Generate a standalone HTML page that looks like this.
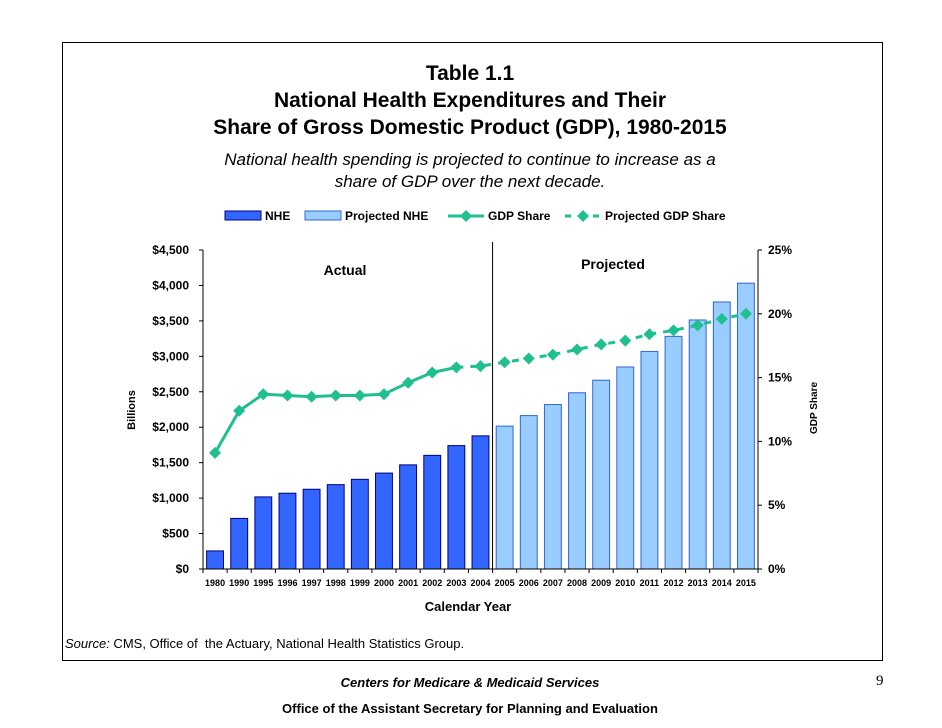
<!DOCTYPE html>
<html><head><meta charset="utf-8"><style>
body{margin:0;width:942px;height:728px;background:#fff;font-family:"Liberation Sans",sans-serif;position:relative;overflow:hidden}
.t{position:absolute;text-align:center;font-weight:bold}
</style></head><body>
<div style="position:absolute;left:62px;top:42px;width:819px;height:617px;border:1px solid #000"></div>
<div class="t" style="left:100px;width:740px;top:60px;font-size:21px;line-height:27px">Table 1.1<br>National Health Expenditures and Their<br>Share of Gross Domestic Product (GDP), 1980-2015</div>
<div style="position:absolute;left:100px;width:740px;top:149px;text-align:center;font-size:17px;font-style:italic;line-height:22px">National health spending is projected to continue to increase as a<br>share of GDP over the next decade.</div>
<div style="position:absolute;left:65px;top:636px;font-size:13px"><i>Source:</i> CMS, Office of &nbsp;the Actuary, National Health Statistics Group.</div>
<div class="t" style="left:200px;width:540px;top:675px;font-size:13px;font-style:italic">Centers for Medicare &amp; Medicaid Services</div>
<div class="t" style="left:200px;width:540px;top:701px;font-size:13px">Office of the Assistant Secretary for Planning and Evaluation</div>
<div style="position:absolute;left:876px;top:673px;font-family:'Liberation Serif',serif;font-size:15px">9</div>
<svg id="c" width="942" height="728" style="position:absolute;left:0;top:0" font-family="Liberation Sans, sans-serif"></svg>
<script>
const years=["1980","1990","1995","1996","1997","1998","1999","2000","2001","2002","2003","2004","2005","2006","2007","2008","2009","2010","2011","2012","2013","2014","2015"];
const nhe=[255,714,1017,1069,1125,1190,1265,1353,1469,1603,1741,1878,2016,2164,2320,2486,2663,2850,3069,3282,3513,3767,4032];
const gdpShare=[9.1,12.4,13.7,13.6,13.5,13.6,13.6,13.7,14.6,15.4,15.8,15.9,16.2,16.5,16.8,17.2,17.6,17.9,18.4,18.7,19.1,19.6,20.0];
const leftTicks=[0,500,1000,1500,2000,2500,3000,3500,4000,4500];
const rightTicks=[0,5,10,15,20,25];
const actualCount=12, solidLineCount=11;
const svg=document.getElementById('c');const NS='http://www.w3.org/2000/svg';
function mk(t,a,txt){const e=document.createElementNS(NS,t);for(const k in a)e.setAttribute(k,a[k]);if(txt!=null)e.textContent=txt;svg.appendChild(e);return e;}
const X0=203,X1=758,Y0=569,Y1=250,bw=(X1-X0)/years.length;
const yL=v=>Y0-(v/4500)*(Y0-Y1), yR=v=>Y0-(v/25)*(Y0-Y1), xc=i=>X0+bw*(i+0.5);
// bars
nhe.forEach((v,i)=>{const r=mk('rect',{x:xc(i)-bw*0.35,y:yL(v),width:bw*0.7,height:Y0-yL(v),fill:i<actualCount?'#3366ff':'#99ccff',stroke:i<actualCount?'#000080':'#3366cc','stroke-width':1});

});
// axes
let a=mk('line',{x1:X0,y1:Y1,x2:X0,y2:Y0,stroke:'#000'});
a=mk('line',{x1:X1,y1:Y1,x2:X1,y2:Y0,stroke:'#000'});
a=mk('line',{x1:X0,y1:Y0,x2:X1,y2:Y0,stroke:'#000'});
leftTicks.forEach(v=>{mk('line',{x1:X0-4,x2:X0,y1:yL(v),y2:yL(v),stroke:'#000'});
const t=mk('text',{x:X0-14,y:yL(v)+4,'text-anchor':'end','font-size':12,'font-weight':'bold'},'$'+v.toLocaleString('en-US'));
});
rightTicks.forEach(v=>{mk('line',{x1:X1,x2:X1+4,y1:yR(v),y2:yR(v),stroke:'#000'});
const t=mk('text',{x:X1+10,y:yR(v)+4,'font-size':12,'font-weight':'bold'},v+'%');
});
years.forEach((y,i)=>{mk('line',{x1:X0+bw*i,x2:X0+bw*i,y1:Y0,y2:Y0+4,stroke:'#000'});
const t=mk('text',{x:xc(i),y:Y0+17,'text-anchor':'middle','font-size':9,'font-weight':'bold'},y);
});
mk('line',{x1:X1,x2:X1,y1:Y0,y2:Y0+4,stroke:'#000'});
// divider
a=mk('line',{x1:X0+bw*actualCount,x2:X0+bw*actualCount,y1:242,y2:Y0,stroke:'#000'});
// line
let ps=gdpShare.slice(0,solidLineCount).map((v,i)=>xc(i)+','+yR(v)).join(' ');
a=mk('polyline',{points:ps,fill:'none',stroke:'#1fbf8f','stroke-width':3});
ps=gdpShare.slice(solidLineCount-1).map((v,i)=>xc(i+solidLineCount-1)+','+yR(v)).join(' ');
a=mk('polyline',{points:ps,fill:'none',stroke:'#1fbf8f','stroke-width':3,'stroke-dasharray':'7 7'});
gdpShare.forEach((v,i)=>{const x=xc(i),y=yR(v);const p=mk('polygon',{points:`${x},${y-6} ${x+6},${y} ${x},${y+6} ${x-6},${y}`,fill:'#1fbf8f'});

});
// labels
function lab(x,y,s,n,extra){const t=mk('text',Object.assign({x:x,y:y,'font-size':13,'font-weight':'bold','text-anchor':'middle'},extra||{}),s);}
lab(345,275,'Actual','actual-label',{'font-size':14});
lab(613,269,'Projected','projected-label',{'font-size':14});
lab(468,611,'Calendar Year','x-axis-title');
lab(0,0,'Billions','left-axis-title',{transform:'translate(135,410) rotate(-90)','font-size':11});
lab(0,0,'GDP Share','right-axis-title',{transform:'translate(817,408) rotate(-90)','font-size':10});
// legend
function leg(x,type,s,n){const g=document.createElementNS(NS,'g');svg.appendChild(g);
if(type==0||type==1){const r=document.createElementNS(NS,'rect');[['x',x],['y',211],['width',36],['height',9],['fill',type?'#99ccff':'#3366ff'],['stroke',type?'#3366cc':'#000080']].forEach(q=>r.setAttribute(q[0],q[1]));g.appendChild(r);}
else{const l=document.createElementNS(NS,'line');[['x1',x],['x2',x+36],['y1',216],['y2',216],['stroke','#1fbf8f'],['stroke-width',3]].forEach(q=>l.setAttribute(q[0],q[1]));if(type==3)l.setAttribute('stroke-dasharray','6 8');g.appendChild(l);
const p=document.createElementNS(NS,'polygon');p.setAttribute('points',`${x+18},210 ${x+24},216 ${x+18},222 ${x+12},216`);p.setAttribute('fill','#1fbf8f');g.appendChild(p);}
const t=document.createElementNS(NS,'text');t.setAttribute('x',x+40);t.setAttribute('y',220);t.setAttribute('font-size',12);t.setAttribute('font-weight','bold');t.textContent=s;g.appendChild(t);}
leg(225,0,'NHE','legend-nhe');leg(305,1,'Projected NHE','legend-projected-nhe');leg(448,2,'GDP Share','legend-gdp-share');leg(565,3,'Projected GDP Share','legend-projected-gdp-share');
</script>
</body></html>
